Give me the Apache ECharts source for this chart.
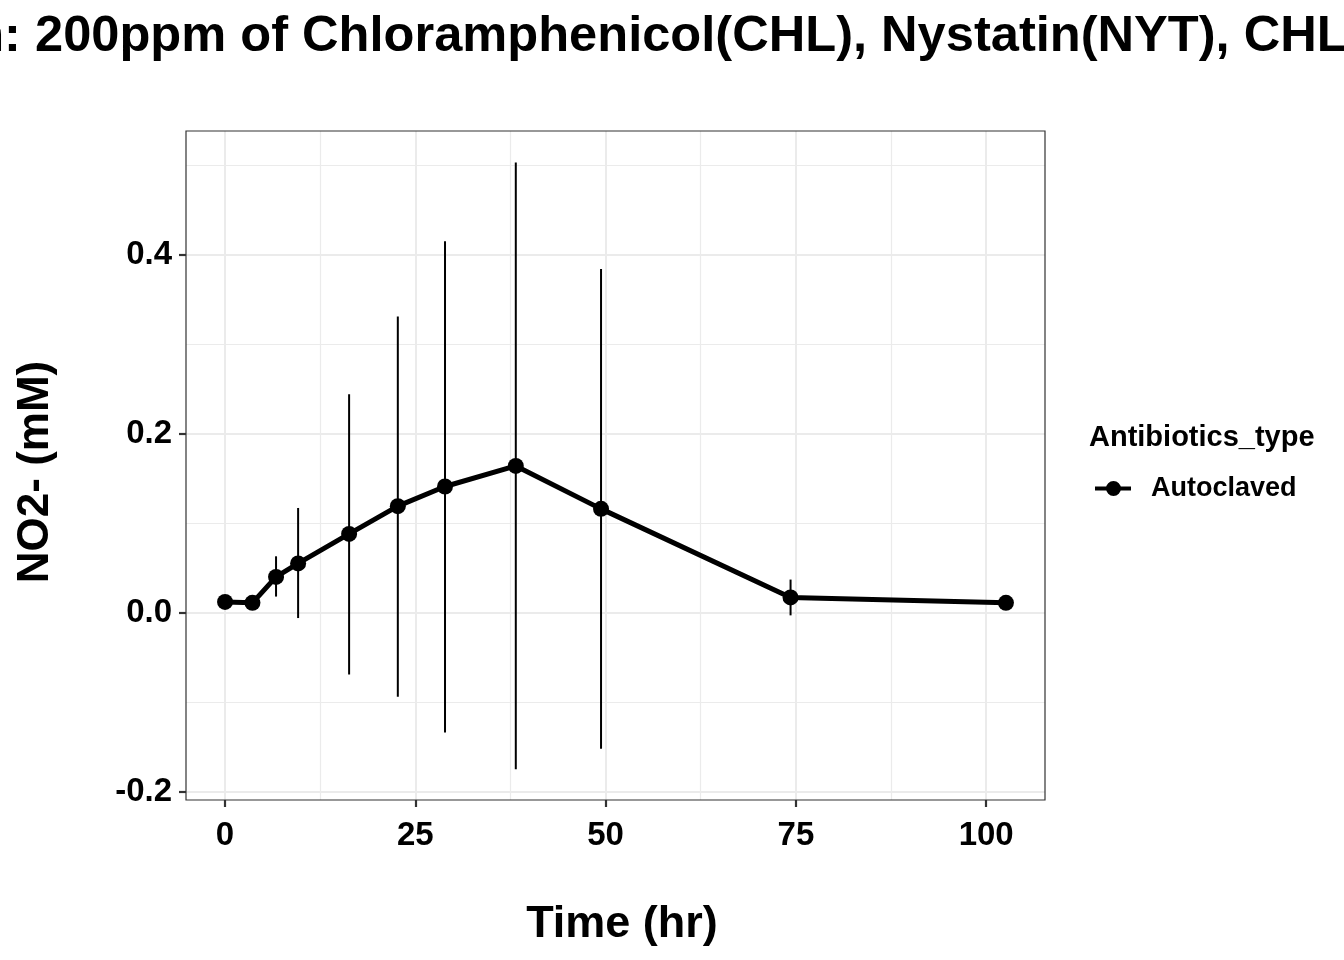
<!DOCTYPE html>
<html>
<head>
<meta charset="utf-8">
<script src="https://cdn.jsdelivr.net/npm/echarts@6/dist/echarts.min.js"></script>
<style>html,body{margin:0;padding:0;background:#fff;}#chart{width:1344px;height:960px;}</style>
</head>
<body>
<div id="chart"></div>
<script>
// ---- data ----
const titlePrefix = 'Condition: ';
const titleBody = '200ppm of Chloramphenicol(CHL), Nystatin(NYT), CHL+NYT';
const seriesName = 'Autoclaved';
const legendTitle = 'Antibiotics_type';
const xTitle = 'Time (hr)';
const yTitle = 'NO2- (mM)';
const timeHr  = [0, 3.6, 6.7, 9.6, 16.3, 22.7, 28.9, 38.2, 49.4, 74.3, 102.6];
const no2Mean = [0.012, 0.011, 0.040, 0.055, 0.088, 0.119, 0.141, 0.164, 0.116, 0.017, 0.011];
const no2Low  = [0.009, 0.008, 0.018, -0.006, -0.069, -0.094, -0.134, -0.175, -0.152, -0.003, 0.008];
const no2High = [0.015, 0.014, 0.063, 0.117, 0.244, 0.331, 0.415, 0.503, 0.384, 0.037, 0.014];
const xTicks = [0, 25, 50, 75, 100];
const yTicks = [-0.2, 0.0, 0.2, 0.4];

// ---- layout ----
const W = 1344, H = 960;
const P = {left: 186, right: 1045, top: 131, bottom: 800};
const xMin = -5.13, xMax = 107.73;
const yMin = -0.2093, yMax = 0.5382;
const px = v => P.left + (v - xMin) / (xMax - xMin) * (P.right - P.left);
const py = v => P.top + (yMax - v) / (yMax - yMin) * (P.bottom - P.top);
const FONT = "'Liberation Sans', Arial, sans-serif";
const GRIDC = '#EBEBEB';
const TITLE_FONT = 'bold 50.6px ' + FONT;

// place the title so that the visible part starts like the reference
const mctx = document.createElement('canvas').getContext('2d');
mctx.font = TITLE_FONT;
const titleX = 35 - mctx.measureText(titlePrefix).width;

const chart = echarts.init(document.getElementById('chart'), null, {renderer: 'canvas'});

const pts = timeHr.map((t, i) => [t, no2Mean[i]]);
const errs = timeHr.map((t, i) => [t, no2Low[i], no2High[i]]);

const option = {
  backgroundColor: '#fff',
  animation: false,
  graphic: [
    {type: 'text', x: titleX, y: 37, z: 10,
     style: {text: titlePrefix + titleBody, font: TITLE_FONT, fill: '#000', textAlign: 'left', textVerticalAlign: 'middle'}},
    {type: 'text', x: 1089, y: 438, z: 10,
     style: {text: legendTitle, font: 'bold 29px ' + FONT, fill: '#000', textAlign: 'left', textVerticalAlign: 'middle'}}
  ],
  legend: {
    show: true, data: [seriesName], left: 1095, top: 475, padding: 0,
    itemWidth: 36, itemHeight: 15,
    icon: 'path://M0,5.5H36V9.5H0Z M11,7.5A7.5,7.5 0 1,1 26,7.5A7.5,7.5 0 1,1 11,7.5Z',
    itemStyle: {color: '#000'},
    textStyle: {fontFamily: FONT, fontWeight: 'bold', fontSize: 27, color: '#000', padding: [0, 0, 0, 15]}
  },
  grid: [
    {left: P.left, right: W - P.right, top: P.top, bottom: H - P.bottom, show: true, borderColor: '#333333', borderWidth: 1.2, backgroundColor: 'transparent', z: 5},
    {left: px(0), right: W - px(100), top: P.top, bottom: H - P.bottom},
    {left: P.left, right: W - P.right, top: py(0.4), bottom: H - py(-0.2)},
    {left: P.left, right: W - P.right, top: py(0.5), bottom: H - py(-0.1)}
  ],
  xAxis: [
    {type: 'value', gridIndex: 0, min: xMin, max: xMax, name: xTitle, nameLocation: 'middle', nameGap: 102,
     nameTextStyle: {fontFamily: FONT, fontWeight: 'bold', fontSize: 45, color: '#000', padding: [0, 0, 0, 13]},
     axisLine: {show: false}, axisTick: {show: false}, axisLabel: {show: false}, splitLine: {show: false}},
    {type: 'value', gridIndex: 1, min: xTicks[0], max: xTicks[xTicks.length - 1], interval: 25,
     axisLine: {show: false},
     axisTick: {show: true, inside: false, length: 7, lineStyle: {color: '#333333', width: 2.2}},
     axisLabel: {show: true, margin: 19, fontFamily: FONT, fontWeight: 'bold', fontSize: 33, color: '#000', formatter: v => String(v)},
     splitLine: {show: true, lineStyle: {color: GRIDC, width: 2}},
     minorTick: {show: false, splitNumber: 2},
     minorSplitLine: {show: true, lineStyle: {color: GRIDC, width: 1.2}}},
    {type: 'value', gridIndex: 2, min: 0, max: 1, show: false},
    {type: 'value', gridIndex: 3, min: 0, max: 1, show: false}
  ],
  yAxis: [
    {type: 'value', gridIndex: 0, min: yMin, max: yMax, name: yTitle, nameLocation: 'middle', nameGap: 128,
     nameTextStyle: {fontFamily: FONT, fontWeight: 'bold', fontSize: 44, color: '#000', padding: [0, 13, 0, 0]},
     axisLine: {show: false}, axisTick: {show: false}, axisLabel: {show: false}, splitLine: {show: false}},
    {type: 'value', gridIndex: 1, min: 0, max: 1, show: false},
    {type: 'value', gridIndex: 2, min: yTicks[0], max: yTicks[yTicks.length - 1], interval: 0.2,
     axisLine: {show: false},
     axisTick: {show: true, inside: false, length: 7, lineStyle: {color: '#333333', width: 2.2}},
     axisLabel: {show: true, margin: 14, fontFamily: FONT, fontWeight: 'bold', fontSize: 33, color: '#000', formatter: v => v.toFixed(1)},
     splitLine: {show: true, lineStyle: {color: GRIDC, width: 2}}},
    {type: 'value', gridIndex: 3, min: -0.1, max: 0.5, interval: 0.2,
     axisLine: {show: false}, axisTick: {show: false}, axisLabel: {show: false},
     splitLine: {show: true, lineStyle: {color: GRIDC, width: 1.2}}}
  ],
  series: [
    {type: 'custom', name: 'error', xAxisIndex: 0, yAxisIndex: 0, z: 3,
     data: errs,
     encode: {x: 0, y: [1, 2]},
     renderItem: (params, api) => {
       const a = api.coord([api.value(0), api.value(1)]);
       const b = api.coord([api.value(0), api.value(2)]);
       return {type: 'line', shape: {x1: a[0], y1: a[1], x2: b[0], y2: b[1]},
               style: {stroke: '#000', lineWidth: 2}};
     }},
    {type: 'line', name: seriesName, xAxisIndex: 0, yAxisIndex: 0, z: 4,
     data: pts, symbol: 'circle', symbolSize: 16, showSymbol: true,
     lineStyle: {color: '#000', width: 5}, itemStyle: {color: '#000'}}
  ]
};
chart.setOption(option);
</script>
</body>
</html>
